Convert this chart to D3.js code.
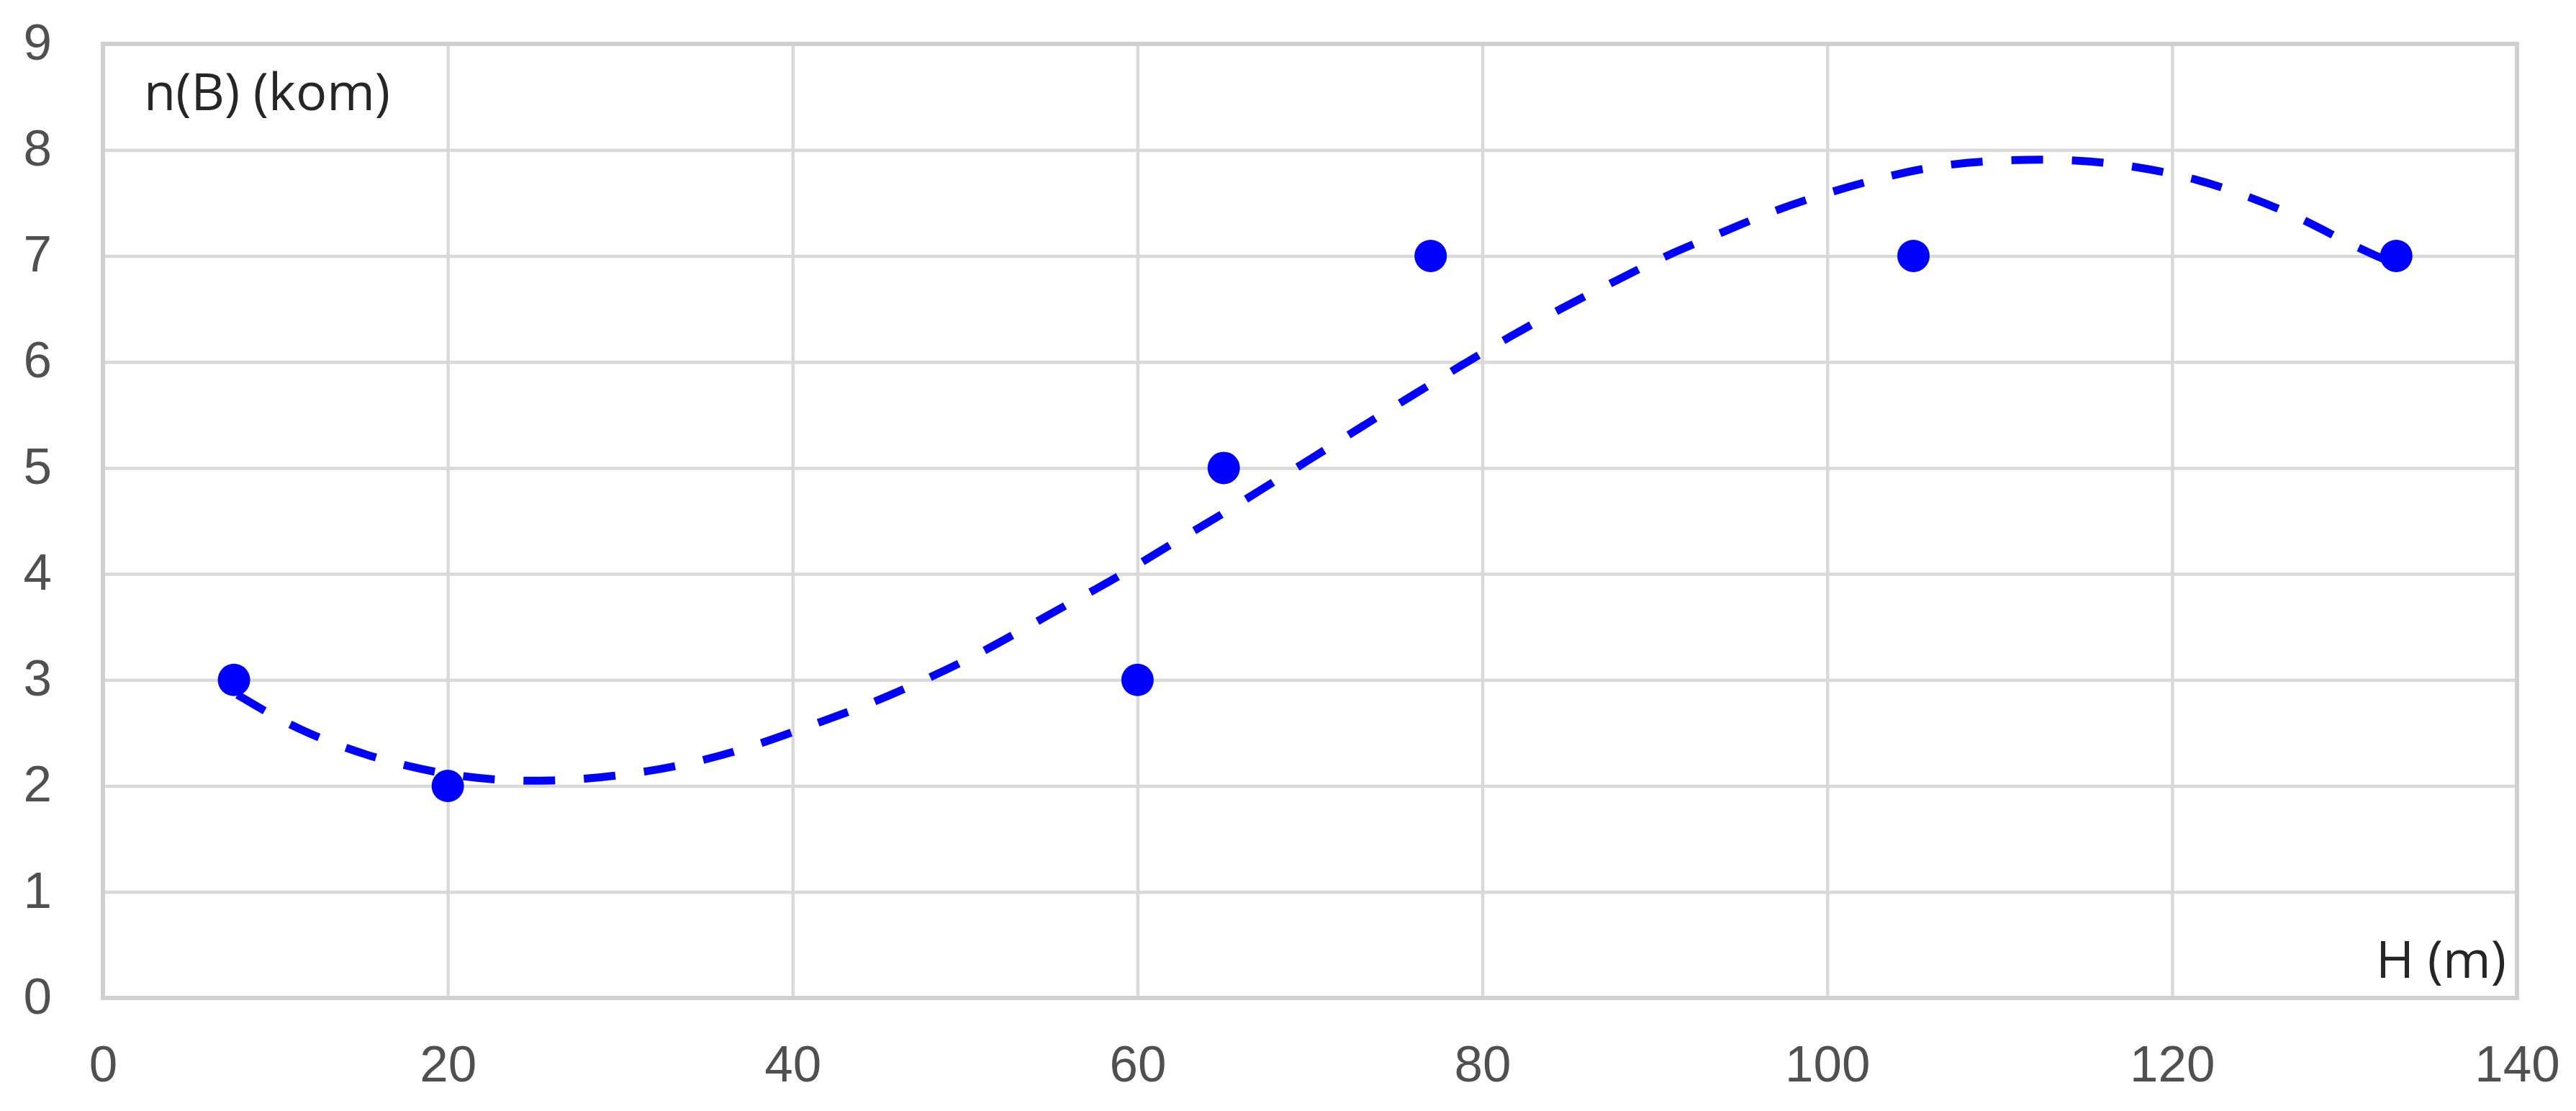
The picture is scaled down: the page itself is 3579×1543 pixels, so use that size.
<!DOCTYPE html>
<html>
<head>
<meta charset="utf-8">
<script src="https://d3js.org/d3.v7.min.js"></script>
<style>
  body { margin: 0; background: #fff; }
  #chart { font-family: "Open Sans", sans-serif; }
  .grid line { stroke: #d9d9d9; stroke-width: 4.5; }
  .grid text { fill: #505050; font-size: 71px; }
  .axis-title { fill: #262626; font-size: 72px; }
</style>
</head>
<body>
<div id="chart"></div>
<script>
    // measured points: H (m) vs n(B) (kom)
    var pointH = [7.6, 20, 60, 65, 77, 105, 133];
    var pointN = [3, 2, 3, 5, 7, 7, 7];

    // dashed trend line
    var trendH = [7.8, 10.8, 14.1, 17.4, 20.9, 24.4, 27.9, 31.5, 34.9, 38.2, 41.2, 44.3, 47.4, 50.4, 53.3, 56.0,
        58.9, 61.7, 64.5, 67.4, 70.2, 73.0, 75.8, 78.8, 81.6, 84.6, 87.8, 90.7, 93.9, 96.9, 100.3, 103.6,
        107.0, 110.6, 114.5, 117.7, 121.2, 124.3, 127.5, 130.4, 133];
    var trendN = [2.86, 2.57, 2.35, 2.19, 2.08, 2.04, 2.06, 2.13, 2.24, 2.40, 2.58, 2.76, 2.98, 3.21, 3.47, 3.72,
        3.97, 4.26, 4.52, 4.82, 5.10, 5.39, 5.67, 5.97, 6.24, 6.51, 6.77, 7.01, 7.22, 7.43, 7.61, 7.76,
        7.87, 7.91, 7.91, 7.85, 7.74, 7.57, 7.36, 7.10, 6.92];

    var xTicks = [0, 20, 40, 60, 80, 100, 120, 140];
    var yTicks = [0, 1, 2, 3, 4, 5, 6, 7, 8, 9];

    var W = 3579, H = 1543;
    var margin = { top: 61, right: 82, bottom: 157, left: 143 },
        width = W - margin.left - margin.right,
        height = H - margin.top - margin.bottom;

    var svg = d3.select("#chart")
        .append("svg")
        .attr("width", W)
        .attr("height", H)
        .append("g")
        .attr("transform", "translate(" + margin.left + "," + margin.top + ")");

    var x = d3.scaleLinear().domain([0, 140]).range([0, width]);
    var y = d3.scaleLinear().domain([0, 9]).range([height, 0]);

    // gridlines + tick labels
    svg.append("g")
        .attr("class", "grid")
        .call(d3.axisLeft(y).tickValues(yTicks).tickSize(-width).tickPadding(71))
        .call(function(g) { g.select(".domain").remove(); })
        .selectAll("text").attr("dy", "0.30em");

    svg.append("g")
        .attr("class", "grid")
        .attr("transform", "translate(0," + height + ")")
        .call(d3.axisBottom(x).tickValues(xTicks).tickSize(-height).tickPadding(66))
        .call(function(g) { g.select(".domain").remove(); });

    // plot border
    svg.append("rect")
        .attr("width", width)
        .attr("height", height)
        .attr("fill", "none")
        .attr("stroke", "#d0d0d0")
        .attr("stroke-width", 6);

    // trend line
    var trend = trendH.map(function(h, i) { return [h, trendN[i]]; });
    var line = d3.line()
        .x(function(d) { return x(d[0]); })
        .y(function(d) { return y(d[1]); })
        .curve(d3.curveBasis);
    svg.append("path")
        .datum(trend)
        .attr("d", line)
        .attr("fill", "none")
        .attr("stroke", "#0000ff")
        .attr("stroke-width", 11)
        .attr("stroke-dasharray", "44,40");

    // markers
    svg.selectAll(".dot")
        .data(pointH)
        .enter().append("circle")
        .attr("class", "dot")
        .attr("cx", function(d) { return x(d); })
        .attr("cy", function(d, i) { return y(pointN[i]); })
        .attr("r", 22.5)
        .attr("fill", "#0000ff");

    // axis titles inside the plot
    svg.append("text")
        .attr("class", "axis-title")
        .attr("x", 57)
        .attr("y", 92)
        .text("n(B) (kom)");

    svg.append("text")
        .attr("class", "axis-title")
        .attr("x", width - 15)
        .attr("y", height - 28)
        .attr("text-anchor", "end")
        .text("H (m)");
</script>
</body>
</html>
